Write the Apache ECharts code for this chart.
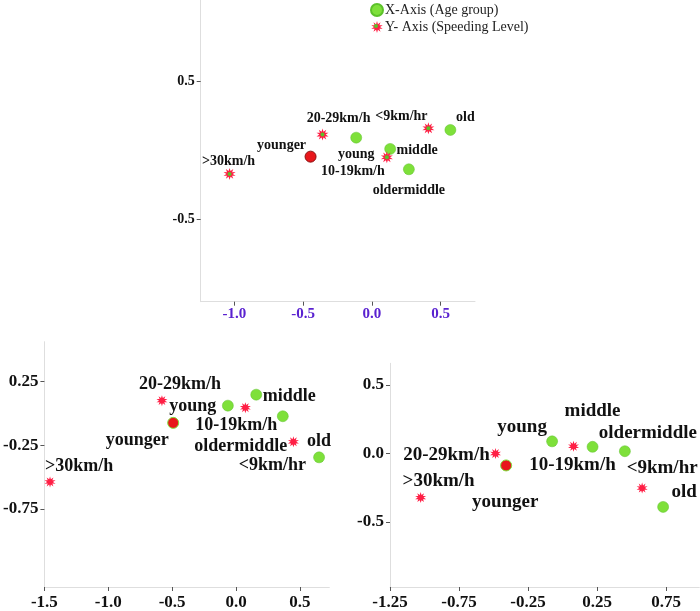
<!DOCTYPE html>
<html>
<head>
<meta charset="utf-8">
<script src="https://cdn.jsdelivr.net/npm/echarts@6/dist/echarts.min.js"></script>
<style>html,body{margin:0;padding:0;background:#fff;}#c{width:700px;height:611px;}</style>
</head>
<body>
<div id="c"></div>
<script>
// ---- categories ----
const ageGroups = ['younger', 'young', 'middle', 'oldermiddle', 'old'];
const speedLevels = ['>30km/h', '20-29km/h', '10-19km/h', '<9km/hr'];

// ---- top chart values ----
const topAgeX = [-0.446, -0.114, 0.133, 0.269, 0.571];
const topAgeY = [-0.045, 0.093, 0.011, -0.137, 0.149];
const topSpeedX = [-1.035, -0.359, 0.109, 0.411];
const topSpeedY = [-0.171, 0.115, -0.05, 0.161];
const topXTicks = [-1.0, -0.5, 0.0, 0.5];
const topXTickLabels = ['-1.0', '-0.5', '0.0', '0.5'];
const topYTicks = [-0.5, 0.5];
const topYTickLabels = ['-0.5', '0.5'];

// ---- bottom-left chart values ----
const blAgeX = [-0.492, -0.064, 0.158, 0.366, 0.65];
const blAgeY = [-0.075, 0.06, 0.146, -0.023, -0.345];
const blSpeedX = [-1.456, -0.58, 0.073, 0.449];
const blSpeedY = [-0.538, 0.099, 0.044, -0.223];
const blXTicks = [-1.5, -1.0, -0.5, 0.0, 0.5];
const blXTickLabels = ['-1.5', '-1.0', '-0.5', '0.0', '0.5'];
const blYTicks = [-0.75, -0.25, 0.25];
const blYTickLabels = ['-0.75', '-0.25', '0.25'];

// ---- bottom-right chart values ----
const brAgeX = [-0.409, -0.076, 0.217, 0.451, 0.728];
const brAgeY = [-0.087, 0.089, 0.049, 0.017, -0.39];
const brSpeedX = [-1.028, -0.486, 0.079, 0.576];
const brSpeedY = [-0.322, 0.0, 0.053, -0.252];
const brXTicks = [-1.25, -0.75, -0.25, 0.25, 0.75];
const brXTickLabels = ['-1.25', '-0.75', '-0.25', '0.25', '0.75'];
const brYTicks = [-0.5, 0.0, 0.5];
const brYTickLabels = ['-0.5', '0.0', '0.5'];

// ---- label placement (layout only) ----
const topAgeLabelOff = [[-29, -11], [0, 17], [27, 1], [0, 21], [15, -13]];
const topSpeedLabelOff = [[-1, -13], [16, -16], [-34, 14], [-27, -12]];
const blAgeLabelOff = [[-36, 17], [-35, 1], [33, 2], [-42, 30], [0, -16]];
const blSpeedLabelOff = [[29, -16], [18, -16], [-9, 18], [-21, 24]];
const brAgeLabelOff = [[-1, 37], [-30, -14], [0, -36], [23, -18], [21, -15]];
const brSpeedLabelOff = [[18, -17], [-49, 2], [-1, 19], [20, -20]];

const SERIF = 'Liberation Serif, Times New Roman, serif';
const GREEN = '#7ee03a';
const RED = '#e8171c';
const STAR_RED = '#ff1f45';
const HIGHLIGHT = 'younger';

function starPath(n, rIn) {
  let d = '';
  for (let i = 0; i < 2 * n; i++) {
    const r = i % 2 === 0 ? 1 : rIn;
    const a = Math.PI * i / n - Math.PI / 2;
    const x = (50 + 50 * r * Math.cos(a)).toFixed(2);
    const y = (50 + 50 * r * Math.sin(a)).toFixed(2);
    d += (i === 0 ? 'M' : 'L') + x + ' ' + y + ' ';
  }
  return 'path://' + d + 'Z';
}
const STAR = starPath(10, 0.5);

function mkAxis(idx, min, max, ticks, labels, fontSize, color, margin) {
  return {
    type: 'value', gridIndex: idx, min: min, max: max,
    splitLine: { show: false },
    axisLine: { show: true, onZero: false, lineStyle: { color: '#dedede', width: 1 } },
    axisTick: { show: true, length: 4, customValues: ticks, lineStyle: { color: '#555' } },
    axisLabel: {
      customValues: ticks, fontFamily: SERIF, fontWeight: 'bold', fontSize: fontSize,
      color: color, margin: margin,
      formatter: function (v) {
        for (let i = 0; i < ticks.length; i++) if (Math.abs(ticks[i] - v) < 1e-6) return labels[i];
        return '';
      }
    }
  };
}

function ageSeries(idx, name, xs, ys, offs, fontSize, topStyle) {
  return {
    type: 'scatter', name: name, xAxisIndex: idx, yAxisIndex: idx,
    symbol: 'circle', symbolSize: 11, z: 3,
    itemStyle: { color: GREEN, borderColor: '#5cc12a', borderWidth: 0.5, opacity: 1 },
    data: ageGroups.map((g, i) => ({
      value: [xs[i], ys[i]], name: g,
      itemStyle: g === HIGHLIGHT ? (topStyle ? { color: RED, borderColor: '#8a1010', borderWidth: 1 } : { color: RED, borderColor: GREEN, borderWidth: 1 }) : undefined,
      label: { offset: offs[i] }
    })),
    label: {
      show: true, position: 'inside', formatter: p => p.name,
      fontFamily: SERIF, fontWeight: 'bold', fontSize: fontSize, color: '#111',
      align: 'center', verticalAlign: 'middle'
    },
    emphasis: { disabled: true }
  };
}

function speedSeries(idx, name, xs, ys, offs, fontSize, size) {
  return {
    type: 'scatter', name: name, xAxisIndex: idx, yAxisIndex: idx,
    symbol: STAR, symbolSize: size, z: 3,
    itemStyle: { color: STAR_RED, opacity: 1 },
    data: speedLevels.map((s, i) => ({ value: [xs[i], ys[i]], name: s, label: { offset: offs[i] } })),
    label: {
      show: true, position: 'inside', formatter: p => p.name,
      fontFamily: SERIF, fontWeight: 'bold', fontSize: fontSize, color: '#111',
      align: 'center', verticalAlign: 'middle'
    },
    emphasis: { disabled: true }
  };
}

const chart = echarts.init(document.getElementById('c'), null, { renderer: 'canvas' });
const option = {
  backgroundColor: '#fff',
  animation: false,
  legend: {
    orient: 'vertical', left: 365, top: -2, itemWidth: 12, itemHeight: 12, itemGap: 3,
    textStyle: { fontFamily: SERIF, fontSize: 14, color: '#222', padding: [0, 0, 0, -3] },
    data: [{ name: 'X-Axis (Age group)', icon: 'circle' }, { name: 'Y- Axis (Speeding Level)', icon: STAR }],
    selectedMode: false
  },
  graphic: [
    { type: 'circle', shape: { cx: 376, cy: 26, r: 2 }, style: { fill: '#5cc12a' }, z: 100, silent: true }
  ],
  grid: [
    { left: 200.7, top: 0, width: 274.3, height: 301.7 },
    { left: 40.7, top: 341.7, width: 288.6, height: 246.6 },
    { left: 390, top: 363.3, width: 309.3, height: 225 }
  ],
  xAxis: [
    mkAxis(0, -1.245, 0.75, topXTicks, topXTickLabels, 15, '#5a22d0', 5),
    mkAxis(1, -1.5, 0.73, blXTicks, blXTickLabels, 17, '#111', 7),
    mkAxis(2, -1.25, 0.99, brXTicks, brXTickLabels, 17, '#111', 7)
  ],
  yAxis: [
    mkAxis(0, -1.1, 1.094, topYTicks, topYTickLabels, 14, '#111', 6),
    mkAxis(1, -1.361, 0.561, blYTicks, blYTickLabels, 17, '#111', 6),
    mkAxis(2, -0.975, 0.659, brYTicks, brYTickLabels, 17, '#111', 6)
  ],
  series: [
    ageSeries(0, 'X-Axis (Age group)', topAgeX, topAgeY, topAgeLabelOff, 14, true),
    speedSeries(0, 'Y- Axis (Speeding Level)', topSpeedX, topSpeedY, topSpeedLabelOff, 14, 12),
    {
      type: 'scatter', name: 'starCenter', xAxisIndex: 0, yAxisIndex: 0, silent: true, z: 4,
      symbol: 'circle', symbolSize: 4, itemStyle: { color: '#5cc12a', opacity: 1 },
      data: speedLevels.map((s, i) => [topSpeedX[i], topSpeedY[i]])
    },
    ageSeries(1, 'bl-age', blAgeX, blAgeY, blAgeLabelOff, 18, false),
    speedSeries(1, 'bl-speed', blSpeedX, blSpeedY, blSpeedLabelOff, 18, 11),
    ageSeries(2, 'br-age', brAgeX, brAgeY, brAgeLabelOff, 19, false),
    speedSeries(2, 'br-speed', brSpeedX, brSpeedY, brSpeedLabelOff, 19, 11)
  ]
};
chart.setOption(option);
</script>
</body>
</html>
